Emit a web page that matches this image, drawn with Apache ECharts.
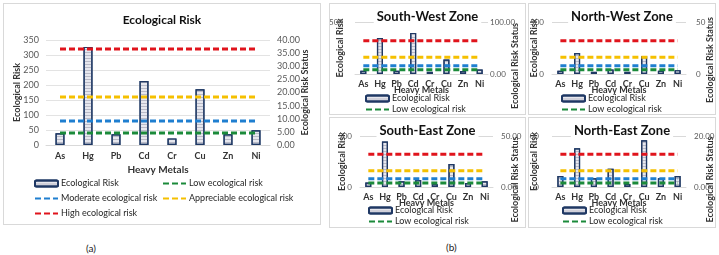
<!DOCTYPE html>
<html>
<head>
<meta charset="utf-8">
<script src="https://cdn.jsdelivr.net/npm/echarts@6/dist/echarts.min.js"></script>
<style>
    body { margin: 0; background: #fff; width: 719px; height: 255px; position: relative; overflow: hidden; font-family: Lato, "Open Sans", sans-serif; }
    .panel { position: absolute; box-sizing: border-box; border: 1px solid #d9d9d9; background: #fff; }
    .cap { position: absolute; font-size: 10px; color: #222; }
</style>
</head>
<body>
<div id="chartA" class="panel" style="left:3px;top:3px;width:318px;height:222px;"></div>
<div id="chartSW" class="panel" style="left:329px;top:3px;width:197px;height:112px;"></div>
<div id="chartNW" class="panel" style="left:528px;top:3px;width:188px;height:112px;"></div>
<div id="chartSE" class="panel" style="left:329px;top:117px;width:197px;height:111px;"></div>
<div id="chartNE" class="panel" style="left:528px;top:117px;width:188px;height:111px;"></div>
<div class="cap" style="left:86px;top:242px;">(a)</div>
<div class="cap" style="left:446px;top:241px;">(b)</div>
<script>
// heavy metals on the x axis
var metals = ['As', 'Hg', 'Pb', 'Cd', 'Cr', 'Cu', 'Zn', 'Ni'];
// ecological risk per metal
var riskOverall = [39, 327, 36, 213, 22, 186, 36, 49];
var riskSouthWest = [31, 345, 31, 395, 21, 139, 28, 43];
var riskNorthWest = [31, 201, 21, 43, 21, 170, 31, 37];
var riskSouthEast = [44, 446, 57, 69, 28, 226, 38, 57];
var riskNorthEast = [107, 380, 85, 179, 30, 459, 85, 107];
// risk class limits
var lowLine = [40, 40, 40, 40, 40, 40, 40, 40];
var moderateLine = [80, 80, 80, 80, 80, 80, 80, 80];
var appreciableLine = [160, 160, 160, 160, 160, 160, 160, 160];
var highLine = [320, 320, 320, 320, 320, 320, 320, 320];

var FONT = 'Lato';
var barName = 'Ecological Risk';
var lowName = 'Low ecological risk';
var modName = 'Moderate ecological risk';
var appName = 'Appreciable ecological risk';
var highName = 'High ecological risk';

function dashed(name, data, color) {
    return {
        name: name,
        type: 'line',
        data: data,
        symbol: 'none',
        silent: true,
        lineStyle: { color: color, width: 3, type: [6, 3] },
        itemStyle: { color: color }
    };
}

function buildSeries(values, barWidth) {
    return [{
        name: barName,
        type: 'bar',
        data: values,
        barWidth: barWidth,
        itemStyle: {
            color: '#e6e7ee',
            borderColor: '#1f3864',
            borderWidth: 1.2,
            decal: { symbol: 'rect', symbolSize: 1, dashArrayX: [1, 0], dashArrayY: [1, 2], color: 'rgba(130,130,150,0.45)' }
        }
    },
    dashed(lowName, lowLine, '#1b8a3a'),
    dashed(modName, moderateLine, '#1f7fd0'),
    dashed(appName, appreciableLine, '#f5c000'),
    dashed(highName, highLine, '#e0141c')];
}

// legend entries, dashed lines without the centre marker
function legendItem(name) {
    if (name === barName) return { name: name };
    return { name: name, itemStyle: { opacity: 0 } };
}

function legendBox(left, top, names, gap) {
    return {
        orient: 'vertical', left: left, top: top, height: 80, itemGap: gap,
        itemWidth: 23, itemHeight: 6, selectedMode: false, padding: 0,
        textStyle: { fontFamily: FONT, fontSize: 9, color: '#262626', padding: [0, 0, 0, -2] },
        data: names.map(legendItem)
    };
}

function zoneChart(id, title, values, c) {
    var chart = echarts.init(document.getElementById(id));
    chart.setOption({
        animation: false,
        title: {
            text: title, left: 'center', top: 5,
            backgroundColor: '#fff', padding: [1, 3],
            textStyle: { fontFamily: FONT, fontSize: 13, fontWeight: 'bold', color: '#111' }
        },
        grid: { left: c.left, right: c.right, top: 18, bottom: 40, outerBoundsMode: 'none', containLabel: false },
        legend: legendBox(c.legLeft, c.legTop, [barName, lowName], 2),
        xAxis: {
            type: 'category', data: metals,
            name: 'Heavy Metals', nameLocation: 'middle', nameGap: 12, nameMoveOverlap: false,
            nameTextStyle: { fontFamily: FONT, fontSize: 9, fontWeight: 'bold', color: '#333' },
            axisLine: { lineStyle: { color: '#d9d9d9' } },
            axisTick: { show: false },
            axisLabel: { fontFamily: FONT, fontSize: 9, fontWeight: 'bold', color: '#333', margin: 6, interval: 0 }
        },
        yAxis: [{
            type: 'value', min: 0, max: 500, interval: 500,
            name: 'Ecological Risk', nameLocation: 'middle', nameGap: c.leftGap, nameMoveOverlap: false,
            nameTextStyle: { fontFamily: FONT, fontSize: 9, fontWeight: 'bold', color: '#333' },
            axisLabel: { fontFamily: FONT, fontSize: 8, color: '#595959', margin: c.leftMargin },
            splitLine: { lineStyle: { color: '#d9d9d9' } }
        }, {
            type: 'value', min: 0, max: c.statusMax, interval: c.statusMax,
            name: 'Ecological Risk Status', nameLocation: 'middle', nameGap: c.rightGap, nameMoveOverlap: false,
            nameTextStyle: { fontFamily: FONT, fontSize: 9, fontWeight: 'bold', color: '#333', padding: [0, c.shift, 0, 0] },
            axisLabel: {
                fontFamily: FONT, fontSize: 8, color: '#595959', margin: c.rightMargin,
                formatter: function(v) { return c.decimals ? v.toFixed(2) : String(v); }
            },
            splitLine: { show: false }
        }],
        series: buildSeries(values, 6)
    });
}

// (a) whole study area
var chartA = echarts.init(document.getElementById('chartA'));
chartA.setOption({
    animation: false,
    title: {
        text: 'Ecological Risk', left: 'center', top: 5,
        textStyle: { fontFamily: FONT, fontSize: 12, fontWeight: 'bold', color: '#111' }
    },
    grid: { left: 42, right: 50, top: 36, bottom: 79, outerBoundsMode: 'none', containLabel: false },
    legend: [
        legendBox(30, 175, [barName, modName, highName], 6),
        legendBox(158, 175, [lowName, appName], 6)
    ],
    xAxis: {
        type: 'category', data: metals,
        name: 'Heavy Metals', nameLocation: 'middle', nameGap: 20, nameMoveOverlap: false,
        nameTextStyle: { fontFamily: FONT, fontSize: 10, fontWeight: 'bold', color: '#333' },
        axisLine: { lineStyle: { color: '#d9d9d9' } },
        axisTick: { show: false },
        axisLabel: { fontFamily: FONT, fontSize: 9, fontWeight: 'bold', color: '#333', margin: 7, interval: 0 }
    },
    yAxis: [{
        type: 'value', min: 0, max: 350, interval: 50,
        name: 'Ecological Risk', nameLocation: 'middle', nameGap: 24, nameMoveOverlap: false,
        nameTextStyle: { fontFamily: FONT, fontSize: 9, fontWeight: 'bold', color: '#333' },
        axisLabel: { fontFamily: FONT, fontSize: 9, color: '#595959', margin: 7 },
        splitLine: { lineStyle: { color: '#e3e3e3' } }
    }, {
        type: 'value', min: 0, max: 40, interval: 5,
        name: 'Ecological Risk Status', nameLocation: 'middle', nameGap: 31, nameMoveOverlap: false,
        nameTextStyle: { fontFamily: FONT, fontSize: 9, fontWeight: 'bold', color: '#333' },
        axisLabel: {
            fontFamily: FONT, fontSize: 9, color: '#595959', margin: 7,
            formatter: function(v) { return v.toFixed(2); }
        },
        splitLine: { show: false }
    }],
    series: buildSeries(riskOverall, 9)
});

// (b) zones
zoneChart('chartSW', 'South-West Zone', riskSouthWest, { left: 25, right: 37, legLeft: 35, legTop: 90, statusMax: 100, decimals: true, leftGap: 10, leftMargin: 12, rightGap: 23, rightMargin: 2, shift: 36 });
zoneChart('chartNW', 'North-West Zone', riskNorthWest, { left: 23, right: 29, legLeft: 32, legTop: 90, statusMax: 50, decimals: false, leftGap: 13, leftMargin: 8, rightGap: 20, rightMargin: 10, shift: 24 });
zoneChart('chartSE', 'South-East Zone', riskSouthEast, { left: 30, right: 32, legLeft: 38, legTop: 88, statusMax: 50, decimals: true, leftGap: 13, leftMargin: 8, rightGap: 18, rightMargin: 8, shift: 36 });
zoneChart('chartNE', 'North-East Zone', riskNorthEast, { left: 23, right: 29, legLeft: 33, legTop: 88, statusMax: 20, decimals: true, leftGap: 13, leftMargin: 13, rightGap: 20, rightMargin: 8, shift: 36 });
</script>
</body>
</html>
